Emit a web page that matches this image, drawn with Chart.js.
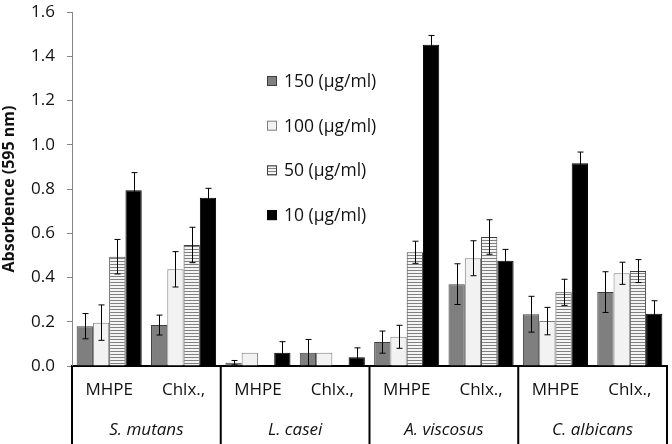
<!DOCTYPE html>
<html>
<head>
<meta charset="utf-8">
<script src="https://cdn.jsdelivr.net/npm/chart.js@4.4.1/dist/chart.umd.min.js"></script>
<style>
  html, body { margin: 0; padding: 0; background: #fff; }
  #wrap { width: 672px; height: 444px; }
</style>
</head>
<body>
<div id="wrap"><canvas id="grafico" width="672" height="444"></canvas></div>
<script>
// Datos
const categorias = ['MHPE', 'Chlx.,', 'MHPE', 'Chlx.,', 'MHPE', 'Chlx.,', 'MHPE', 'Chlx.,'];
const organismos = ['S. mutans', 'L. casei', 'A. viscosus', 'C. albicans'];
const seriesNombres = ['150 (µg/ml)', '100 (µg/ml)', '50 (µg/ml)', '10 (µg/ml)'];

const valores150 = [0.18, 0.185, 0.015, 0.06, 0.108, 0.37, 0.234, 0.334];
const valores100 = [0.196, 0.437, 0.06, 0.06, 0.132, 0.487, 0.203, 0.419];
const valores50 = [0.494, 0.547, 0, 0, 0.514, 0.583, 0.333, 0.429];
const valores10 = [0.794, 0.76, 0.06, 0.04, 1.452, 0.476, 0.916, 0.236];

const error150 = [0.057, 0.045, 0.01, 0.06, 0.05, 0.092, 0.081, 0.092];
const error100 = [0.08, 0.08, null, null, 0.052, 0.079, 0.062, 0.05];
const error50 = [0.078, 0.08, null, null, 0.05, 0.078, 0.059, 0.052];
const error10 = [0.08, 0.043, 0.05, 0.042, 0.042, 0.051, 0.051, 0.059];

const ticksY = ['0.0', '0.2', '0.4', '0.6', '0.8', '1.0', '1.2', '1.4', '1.6'];

const fuente = "'Open Sans', 'DejaVu Sans', sans-serif";

// Patron de rayas horizontales para la serie de 50
function patronRayas() {
    const c = document.createElement('canvas');
    c.width = 4; c.height = 3;
    const g = c.getContext('2d');
    g.fillStyle = '#f4f4f4';
    g.fillRect(0, 0, 4, 3);
    g.fillStyle = '#808080';
    g.fillRect(0, 0, 4, 1);
    return g.createPattern(c, 'repeat');
}

// Barras de error
const pluginErrores = {
    id: 'errores',
    afterDatasetsDraw(chart) {
        const ctx = chart.ctx;
        const y = chart.scales.y;
        ctx.save();
        ctx.strokeStyle = '#000';
        ctx.lineWidth = 1;
        chart.data.datasets.forEach((ds, i) => {
            const meta = chart.getDatasetMeta(i);
            meta.data.forEach((el, j) => {
                const e = ds.errores[j];
                if (e === null || e === undefined) return;
                const v = ds.data[j];
                const x = Math.round(el.x) + 0.5;
                const yA = y.getPixelForValue(v + e);
                const yB = y.getPixelForValue(Math.max(0, v - e));
                ctx.beginPath();
                ctx.moveTo(x, yA); ctx.lineTo(x, yB);
                ctx.moveTo(x - 3, yA); ctx.lineTo(x + 3, yA);
                ctx.moveTo(x - 3, yB); ctx.lineTo(x + 3, yB);
                ctx.stroke();
            });
        });
        ctx.restore();
    }
};

// Tabla de etiquetas bajo el eje x y leyenda
const pluginTabla = {
    id: 'tabla',
    afterDraw(chart) {
        const ctx = chart.ctx;
        const area = chart.chartArea;
        const x = chart.scales.x;
        const ancho = (area.right - area.left) / organismos.length;
        ctx.save();
        ctx.strokeStyle = '#000';
        ctx.lineWidth = 2;
        for (let i = 0; i <= organismos.length; i++) {
            const px = area.left + i * ancho;
            ctx.beginPath();
            ctx.moveTo(px, area.bottom);
            ctx.lineTo(px, chart.height);
            ctx.stroke();
        }
        ctx.fillStyle = '#111';
        ctx.font = 'italic 17px ' + fuente;
        ctx.textAlign = 'center';
        ctx.textBaseline = 'middle';
        organismos.forEach((nombre, i) => {
            const cx = (x.getPixelForValue(2 * i) + x.getPixelForValue(2 * i + 1)) / 2;
            ctx.fillText(nombre, cx, 430);
        });

        // Leyenda
        const colores = chart.data.datasets.map(d => d.backgroundColor);
        const bordes = chart.data.datasets.map(d => d.borderColor);
        ctx.font = '17.5px ' + fuente;
        ctx.textAlign = 'left';
        seriesNombres.forEach((nombre, i) => {
            const ly = 81 + i * 44.7;
            ctx.fillStyle = colores[i];
            ctx.fillRect(267, ly - 5, 10, 10);
            ctx.strokeStyle = bordes[i];
            ctx.lineWidth = 1;
            ctx.strokeRect(267.5, ly - 4.5, 9, 9);
            ctx.fillStyle = '#111';
            ctx.fillText(nombre, 284, ly + 1);
        });
        ctx.restore();
    }
};

function inicializarGrafica() {
    const ctx = document.getElementById('grafico').getContext('2d');
    const rayas = patronRayas();
    new Chart(ctx, {
        type: 'bar',
        data: {
            labels: categorias,
            datasets: [
                { label: seriesNombres[0], data: valores150, errores: error150, backgroundColor: '#7f7f7f', borderColor: '#3f3f3f', borderWidth: 1 },
                { label: seriesNombres[1], data: valores100, errores: error100, backgroundColor: '#f2f2f2', borderColor: '#7f7f7f', borderWidth: 1 },
                { label: seriesNombres[2], data: valores50, errores: error50, backgroundColor: rayas, borderColor: '#404040', borderWidth: 1 },
                { label: seriesNombres[3], data: valores10, errores: error10, backgroundColor: '#000000', borderColor: '#000000', borderWidth: 1 }
            ]
        },
        options: {
            responsive: false,
            animation: false,
            layout: { padding: { top: 12, right: 5, left: 0, bottom: 0 } },
            plugins: {
                legend: { display: false },
                tooltip: { enabled: false }
            },
            datasets: {
                bar: { categoryPercentage: 0.875, barPercentage: 1.0, borderSkipped: 'start' }
            },
            scales: {
                x: {
                    grid: { display: false, drawTicks: false },
                    border: { color: '#000', width: 2 },
                    ticks: { color: '#111', font: { family: fuente, size: 17 }, padding: 14, maxRotation: 0 },
                    afterFit: s => { s.height = 78; s.paddingLeft = 0; s.paddingRight = 0; }
                },
                y: {
                    min: 0,
                    max: 1.6,
                    grid: { drawOnChartArea: false, tickLength: 5, color: '#868686' },
                    border: { color: '#868686', width: 1 },
                    ticks: {
                        stepSize: 0.2,
                        color: '#111',
                        padding: 12,
                        font: { family: fuente, size: 17 },
                        callback: (v, i) => ticksY[i]
                    },
                    title: {
                        display: true,
                        text: 'Absorbence (595 nm)',
                        color: '#111',
                        font: { family: fuente, size: 16, weight: 'bold' },
                        padding: { top: 0, bottom: 0 }
                    },
                    afterFit: s => { s.width = 72; s.paddingTop = 0; s.paddingBottom = 0; }
                }
            }
        },
        plugins: [pluginErrores, pluginTabla]
    });
}

inicializarGrafica();
</script>
</body>
</html>
